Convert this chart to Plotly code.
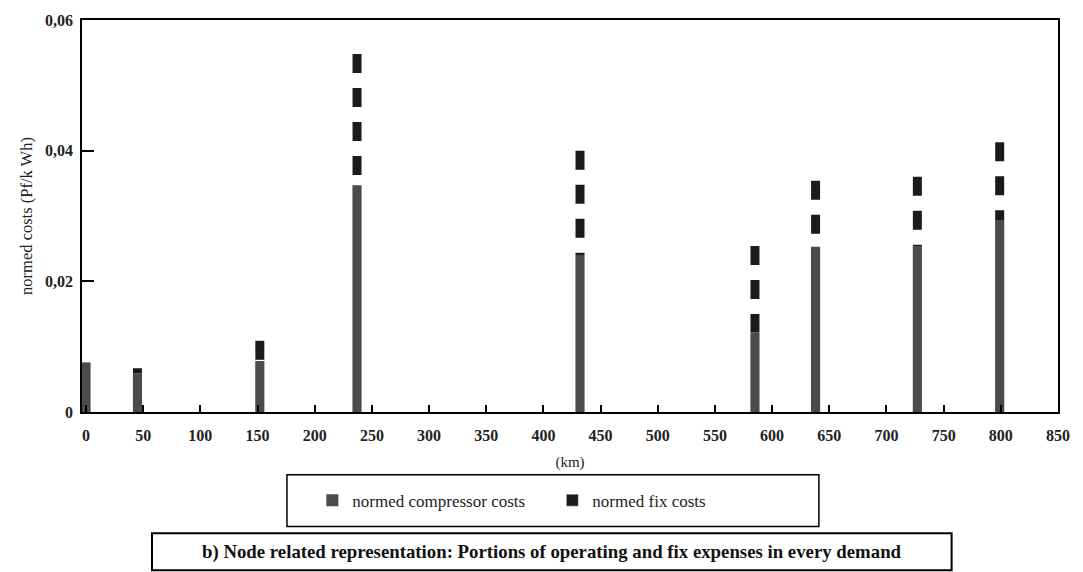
import plotly.graph_objects as go

# Demand nodes along the pipeline (km)
node_km = [0, 45, 152, 237, 432, 585, 638, 727, 799]
# Normed compressor costs per node (Pf/kWh)
compressor_costs = [0.0076, 0.0059, 0.0078, 0.0347, 0.0239, 0.0122, 0.0253, 0.0254, 0.0294]
# Normed fix costs per node, stacked on top of the compressor costs (Pf/kWh)
fix_costs = [0.0, 0.0008, 0.0031, 0.0201, 0.0161, 0.0132, 0.0101, 0.0106, 0.0119]

y_tick_vals = [0, 0.02, 0.04, 0.06]
y_tick_text = ["0", "0,02", "0,04", "0,06"]

series_names = ["normed compressor costs", "normed fix costs"]
caption = "b) Node related representation: Portions of operating and fix expenses in every demand"

GREY = "#4b4b4b"
BLACK = "#1b1b1b"
SERIF = "'Liberation Serif', 'Times New Roman', Times, 'DejaVu Serif', serif"

fig = go.Figure()

# Compressor cost columns
fig.add_trace(go.Bar(
    x=node_km, y=compressor_costs, width=8,
    marker=dict(color=GREY, line=dict(width=0)),
    name=series_names[0], showlegend=True,
))

# Fix cost portion: dashed segments drawn downward from the column total
seg_x, seg_y = [], []
for km, comp, fix in zip(node_km, compressor_costs, fix_costs):
    if fix <= 0:
        continue
    seg_x += [km, km, None]
    seg_y += [comp + fix, comp, None]
fig.add_trace(go.Scatter(
    x=seg_x, y=seg_y, mode="lines",
    line=dict(color=BLACK, width=9, dash="19px,15px"),
    showlegend=False, hoverinfo="skip", legendgroup="fix",
))
# Legend swatch for the fix costs
fig.add_trace(go.Bar(
    x=[None], y=[None], marker=dict(color=BLACK),
    name=series_names[1], legendgroup="fix", showlegend=True,
))

fig.update_layout(
    width=1083, height=572,
    margin=dict(l=82, r=25, t=18, b=160),
    paper_bgcolor="white", plot_bgcolor="white",
    barmode="overlay",
    font=dict(family=SERIF, color="black"),
    showlegend=True,
    legend=dict(
        orientation="h", x=0.236, xanchor="left", y=-0.226, yanchor="middle",
        font=dict(family=SERIF, size=17, color="#222"),
        entrywidth=195, entrywidthmode="pixels",
        bgcolor="rgba(0,0,0,0)", borderwidth=0, traceorder="normal",
    ),
    xaxis=dict(
        range=[-3.5, 850], tickmode="linear", tick0=0, dtick=50,
        ticks="inside", ticklen=7, tickwidth=1.5, tickcolor="black",
        showline=True, linecolor="black", linewidth=1.5, mirror=True,
        showgrid=False, zeroline=False,
        tickfont=dict(family=SERIF, size=16, weight="bold", color="#222"),
        ticklabelstandoff=8,
        title=dict(text="(km)", font=dict(family=SERIF, size=15, color="#222"), standoff=14),
    ),
    yaxis=dict(
        range=[0, 0.06], tickvals=y_tick_vals, ticktext=y_tick_text,
        ticks="inside", ticklen=12, tickwidth=1.5, tickcolor="black",
        showline=True, linecolor="black", linewidth=1.5, mirror=True,
        showgrid=False, zeroline=False,
        tickfont=dict(family=SERIF, size=16, weight="bold", color="#222"),
        ticklabelstandoff=4,
        title=dict(text="normed costs (Pf/k Wh)", font=dict(family=SERIF, size=16.5, color="#222"), standoff=8),
    ),
    shapes=[
        # frame around the legend
        dict(type="rect", xref="paper", yref="paper",
             x0=0.210, x1=0.755, y0=-0.292, y1=-0.160,
             line=dict(color="black", width=1.5), fillcolor="rgba(0,0,0,0)"),
        # frame around the caption
        dict(type="rect", xref="paper", yref="paper",
             x0=0.0717, x1=0.891, y0=-0.4036, y1=-0.3096,
             line=dict(color="black", width=2), fillcolor="rgba(0,0,0,0)"),
    ],
    annotations=[
        dict(text=caption, xref="paper", yref="paper", x=0.4816, y=-0.357,
             xanchor="center", yanchor="middle", showarrow=False,
             font=dict(family=SERIF, size=18.8, weight="bold", color="#111")),
    ],
)

fig.write_html("out.html")
